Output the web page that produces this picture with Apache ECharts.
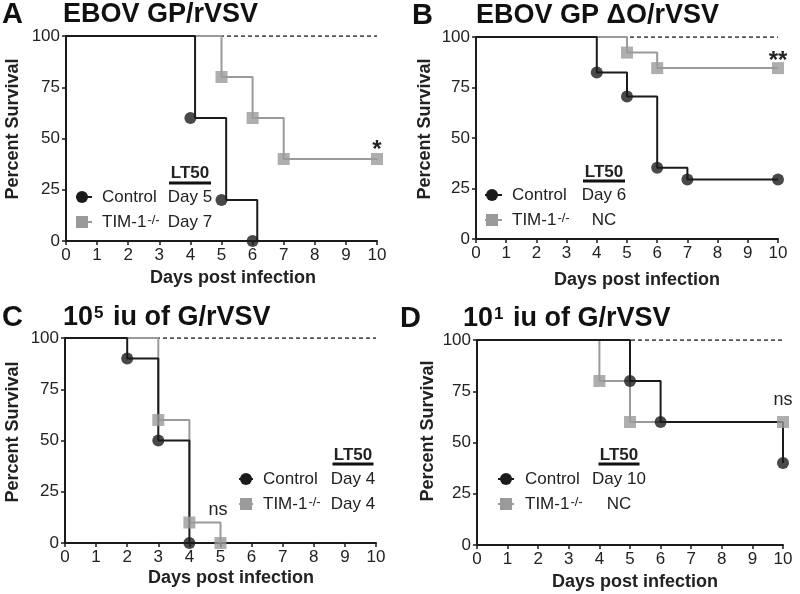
<!DOCTYPE html>
<html><head><meta charset="utf-8">
<script src="https://cdn.jsdelivr.net/npm/echarts@6/dist/echarts.min.js"></script>
<style>html,body{margin:0;padding:0;background:#fff}#c{width:800px;height:594px}</style>
</head><body><div id="c"></div><script>
const FONT = '"Liberation Sans", Arial, Helvetica, sans-serif';
const BLACK = '#1b1b1b', GREY = '#9a9a9a';

// ---- data ----
const aCtrlDays = [0, 4, 5, 6];          const aCtrlSurv = [100, 60, 20, 0];
const aTimDays  = [0, 5, 6, 7, 10];      const aTimSurv  = [100, 80, 60, 40, 40];
const bCtrlDays = [0, 4, 5, 6, 7, 10];   const bCtrlSurv = [100, 82.4, 70.6, 35.3, 29.4, 29.4];
const bTimDays  = [0, 5, 6, 10];         const bTimSurv  = [100, 92.3, 84.6, 84.6];
const cCtrlDays = [0, 2, 3, 4];          const cCtrlSurv = [100, 90, 50, 0];
const cTimDays  = [0, 3, 4, 5];          const cTimSurv  = [100, 60, 10, 0];
const dCtrlDays = [0, 5, 6, 10];         const dCtrlSurv = [100, 80, 60, 40];
const dTimDays  = [0, 4, 5, 10];         const dTimSurv  = [100, 80, 60, 60];
const refDays = [0, 10];                 const refSurv = [100, 100];

const panelLetters = ['A', 'B', 'C', 'D'];
const panelTitles = ['EBOV GP/rVSV', 'EBOV GP \u0394O/rVSV', '10{sup|5} iu of G/rVSV', '10{sup|1} iu of G/rVSV'];
const groupNames = ['Control', 'TIM-1{sup|-/-}'];
const lt50Header = 'LT50';
const lt50Ctrl = ['Day 5', 'Day 6', 'Day 4', 'Day 10'];
const lt50Tim  = ['Day 7', 'NC', 'Day 4', 'NC'];
const sigText = ['*', '**', 'ns', 'ns'];
const sigAt = [[10, 44], [10, 88], [4.92, 16], [10, 70.7]];
const xTitle = 'Days post infection';
const yTitle = 'Percent Survival';

const ctrl = [[aCtrlDays, aCtrlSurv], [bCtrlDays, bCtrlSurv], [cCtrlDays, cCtrlSurv], [dCtrlDays, dCtrlSurv]];
const tim  = [[aTimDays, aTimSurv], [bTimDays, bTimSurv], [cTimDays, cTimSurv], [dTimDays, dTimSurv]];

// ---- layout / style ----
const grids = [
  {left: 66, top: 36, width: 311, height: 205},
  {left: 476, top: 37, width: 302, height: 202},
  {left: 65, top: 338, width: 311, height: 205},
  {left: 477, top: 340, width: 306, height: 205}
];
const ctrlShift = [0.15, 0, 0, 0];
const letterPos = [[2, 15], [412, 16], [2, 318], [400, 319]];
const titlePos = [[63, 15], [476, 16], [63, 318], [463, 319]];
const yTitlePos = [[13, 129], [425, 129], [13, 432], [428, 431]];
const xTitlePos = [[233, 278], [637, 280], [231, 578], [635, 582]];
const legendLayout = [
  {mx: 82, lx1: 76, lx2: 92, tx: 102, r1: 197, r2: 222, cc: 190, lty: 173, bary: 183, barw: 42},
  {mx: 492, lx1: 485, lx2: 502, tx: 512, r1: 195, r2: 220, cc: 604, lty: 172, bary: 181, barw: 42},
  {mx: 246, lx1: 239, lx2: 253, tx: 263, r1: 479, r2: 504, cc: 353, lty: 455, bary: 464, barw: 41},
  {mx: 506, lx1: 498, lx2: 514, tx: 525, r1: 479, r2: 504, cc: 619, lty: 455, bary: 464, barw: 41}
];

function stepData(days, surv, shift) { return days.map((d, i) => [i > 0 ? d + shift : d, surv[i]]); }
function eventData(days, surv) { return days.slice(1).map((d, i) => [d, surv[i + 1]]); }
function pairs(days, surv) { return days.map((d, i) => [d, surv[i]]); }

const chart = echarts.init(document.getElementById('c'), null, {renderer: 'canvas'});
const xAxes = [], yAxes = [], series = [];
grids.forEach((g, i) => {
  xAxes.push({
    type: 'value', gridIndex: i, min: 0, max: 10, interval: 1,
    axisLine: {show: true, onZero: false, lineStyle: {color: BLACK, width: 2}},
    axisTick: {show: true, length: 4, lineStyle: {color: BLACK, width: 1.5}},
    axisLabel: {color: '#222', fontSize: 17, fontFamily: FONT, margin: 6},
    splitLine: {show: false}
  });
  yAxes.push({
    type: 'value', gridIndex: i, min: 0, max: 100, interval: 25,
    axisLine: {show: true, onZero: false, lineStyle: {color: BLACK, width: 2}},
    axisTick: {show: true, length: 4, lineStyle: {color: BLACK, width: 1.5}},
    axisLabel: {color: '#222', fontSize: 17, fontFamily: FONT, margin: 6},
    splitLine: {show: false}
  });
  series.push({
    type: 'line', xAxisIndex: i, yAxisIndex: i, data: pairs(refDays, refSurv), symbol: 'none',
    lineStyle: {color: BLACK, width: 1.5, type: [4, 3]}, z: 1, silent: true
  });
  series.push({
    type: 'line', xAxisIndex: i, yAxisIndex: i, step: 'end', symbol: 'none',
    data: stepData(tim[i][0], tim[i][1], 0),
    lineStyle: {color: GREY, width: 2}, z: 2, silent: true
  });
  series.push({
    type: 'line', xAxisIndex: i, yAxisIndex: i, step: 'end', symbol: 'none',
    data: stepData(ctrl[i][0], ctrl[i][1], ctrlShift[i]),
    lineStyle: {color: BLACK, width: 2}, z: 3, silent: true
  });
  series.push({
    type: 'scatter', xAxisIndex: i, yAxisIndex: i, symbol: 'rect', symbolSize: 12,
    data: eventData(tim[i][0], tim[i][1]), itemStyle: {color: GREY}, z: 4, silent: true
  });
  series.push({
    type: 'scatter', xAxisIndex: i, yAxisIndex: i, symbol: 'circle', symbolSize: 12,
    data: eventData(ctrl[i][0], ctrl[i][1]), itemStyle: {color: BLACK}, z: 5, silent: true
  });
});

chart.setOption({
  animation: false,
  backgroundColor: '#fff',
  grid: grids.map(g => Object.assign({containLabel: false}, g)),
  xAxis: xAxes, yAxis: yAxes, series: series
});

const supRich = {
  sup: {fontSize: 13, fontFamily: FONT, fill: '#222', verticalAlign: 'top', padding: [0, 0, 0, 1]}
};
const graphics = [];
for (let i = 0; i < 4; i++) {
  graphics.push({type: 'text', x: letterPos[i][0], y: letterPos[i][1], style: {
    text: panelLetters[i], font: 'bold 29px ' + FONT, fill: '#111', verticalAlign: 'middle', align: 'left'}});
  graphics.push({type: 'text', x: titlePos[i][0], y: titlePos[i][1], style: {
    text: panelTitles[i], font: 'bold 27px ' + FONT, fill: '#111', verticalAlign: 'middle', align: 'left',
    rich: {sup: {fontSize: 17, fontWeight: 'bold', fontFamily: FONT, fill: '#111', verticalAlign: 'top', padding: [0, 2, 0, 1]}}}});
  graphics.push({type: 'text', x: yTitlePos[i][0], y: yTitlePos[i][1], rotation: Math.PI / 2, style: {
    text: yTitle, font: 'bold 18px ' + FONT, fill: '#222', align: 'center', verticalAlign: 'middle'}});
  graphics.push({type: 'text', x: xTitlePos[i][0], y: xTitlePos[i][1], style: {
    text: xTitle, font: 'bold 18px ' + FONT, fill: '#222', align: 'center', verticalAlign: 'middle'}});
  // legend
  const L = legendLayout[i];
  graphics.push({type: 'line', shape: {x1: L.lx1, y1: L.r1, x2: L.lx2, y2: L.r1}, style: {stroke: BLACK, lineWidth: 2}});
  graphics.push({type: 'circle', shape: {cx: L.mx, cy: L.r1, r: 6}, style: {fill: BLACK}});
  graphics.push({type: 'line', shape: {x1: L.lx1, y1: L.r2, x2: L.lx2, y2: L.r2}, style: {stroke: GREY, lineWidth: 2}});
  graphics.push({type: 'rect', shape: {x: L.mx - 6, y: L.r2 - 6, width: 12, height: 12}, style: {fill: GREY}});
  graphics.push({type: 'text', x: L.tx, y: L.r1, style: {text: groupNames[0], font: '17px ' + FONT, fill: '#222', verticalAlign: 'middle'}});
  graphics.push({type: 'text', x: L.tx, y: L.r2, style: {text: groupNames[1], font: '17px ' + FONT, fill: '#222', verticalAlign: 'middle', rich: supRich}});
  graphics.push({type: 'text', x: L.cc, y: L.lty, style: {text: lt50Header, font: 'bold 17px ' + FONT, fill: '#222', align: 'center', verticalAlign: 'middle'}});
  graphics.push({type: 'rect', shape: {x: L.cc - L.barw / 2, y: L.bary - 1.5, width: L.barw, height: 3}, style: {fill: '#111'}});
  graphics.push({type: 'text', x: L.cc, y: L.r1, style: {text: lt50Ctrl[i], font: '17px ' + FONT, fill: '#222', align: 'center', verticalAlign: 'middle'}});
  graphics.push({type: 'text', x: L.cc, y: L.r2, style: {text: lt50Tim[i], font: '17px ' + FONT, fill: '#222', align: 'center', verticalAlign: 'middle'}});
  // significance
  const p = chart.convertToPixel({gridIndex: i}, sigAt[i]);
  const isStar = sigText[i].indexOf('*') >= 0;
  graphics.push({type: 'text', x: p[0], y: p[1], style: {text: sigText[i],
    font: (isStar ? 'bold 24px ' : '18px ') + FONT, fill: '#222', align: 'center', verticalAlign: 'middle'}});
}
chart.setOption({graphic: graphics});
</script></body></html>
